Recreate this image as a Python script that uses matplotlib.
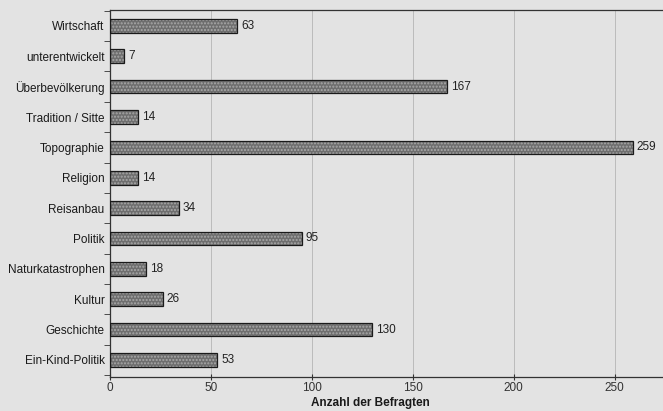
import matplotlib.pyplot as plt
import numpy as np

plt.rcParams['font.family'] = ['Liberation Sans', 'DejaVu Sans']

# reasons given by respondents
categories = ['Wirtschaft', 'unterentwickelt', 'Überbevölkerung', 'Tradition / Sitte',
              'Topographie', 'Religion', 'Reisanbau', 'Politik',
              'Naturkatastrophen', 'Kultur', 'Geschichte', 'Ein-Kind-Politik']
counts = [63, 7, 167, 14, 259, 14, 34, 95, 18, 26, 130, 53]
xticks = [0, 50, 100, 150, 200, 250]

bg = '#e3e3e3'
fig = plt.figure(figsize=(6.63, 4.11), dpi=100, facecolor=bg)
ax = fig.add_axes([0.166, 0.083, 0.834, 0.893], facecolor=bg)

y = np.arange(len(categories))

# speckled fill, then a black outline on top
ax.barh(y, counts, height=0.45, color='#6e6e6e', edgecolor='#a8a8a8',
        hatch='.....', linewidth=0, zorder=2)
ax.barh(y, counts, height=0.45, fill=False, edgecolor='#1a1a1a',
        linewidth=0.9, zorder=3)

for yi, c in zip(y, counts):
    ax.text(c + 2, yi, str(c), va='center', ha='left', fontsize=8.5,
            color='#222222')

ax.set_xlim(0, 274)
ax.set_ylim(11.56, -0.53)
ax.set_xticks(xticks)
ax.set_xticklabels([str(t) for t in xticks], fontsize=8.5, color='#333333')
ax.set_yticks(y)
ax.set_yticklabels(categories, fontsize=8.5, color='#1a1a1a')
ax.set_yticks(np.arange(-0.5, len(categories), 1), minor=True)
ax.tick_params(axis='y', which='major', length=0, pad=4)
ax.tick_params(axis='y', which='minor', length=4, direction='out', color='#333333')
ax.tick_params(axis='x', length=5, direction='inout', color='#333333', pad=1)

ax.grid(axis='x', color='#b5b5b5', linewidth=0.6, zorder=0)
ax.set_axisbelow(True)

ax.spines['right'].set_visible(False)
for s in ['left', 'bottom', 'top']:
    ax.spines[s].set_color('#333333')
    ax.spines[s].set_linewidth(0.9)

ax.set_xlabel('Anzahl der Befragten', fontsize=8.5, fontweight='bold',
              color='#1a1a1a', labelpad=3)
ax.xaxis.set_label_coords(0.47, -0.054)

fig.savefig('out.png', dpi=100, facecolor=bg)
